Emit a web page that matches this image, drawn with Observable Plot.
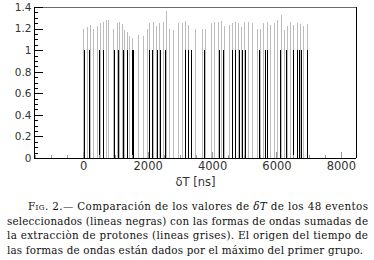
<!DOCTYPE html>
<html>
<head>
<meta charset="utf-8">
<script src="https://cdn.jsdelivr.net/npm/d3@7"></script>
<script src="https://cdn.jsdelivr.net/npm/@observablehq/plot@0.6"></script>
<style>
  html, body { margin: 0; padding: 0; background: #fff; }
  #chart { width: 374px; height: 190px; }
  #cap { font-family: "DejaVu Serif Condensed", "DejaVu Serif", serif; font-size: 11.5px; line-height: 14.6px; color: #111; margin-top: 9px; }
  #cap .l { white-space: nowrap; display: block; }
  #cap .l span.t { display: inline-block; }
</style>
</head>
<body>
<div id="chart"></div>
<div id="cap">
  <div class="l" style="padding-left:28px"><span class="t" data-w="340"><span style="font-variant:small-caps">Fig.</span> 2.— Comparación de los valores de <i>δT</i> de los 48 eventos</span></div>
  <div class="l" style="padding-left:7px"><span class="t" data-w="361">seleccionados (lineas negras) con las formas de ondas sumadas de</span></div>
  <div class="l" style="padding-left:7px"><span class="t" data-w="361">la extracciòn de protones (lineas grises). El origen del tiempo de</span></div>
  <div class="l" style="padding-left:7px"><span class="t" data-w="356">las formas de ondas están dados por el máximo del primer grupo.</span></div>
</div>
<script>
// Event times δT [ns] of the selected events (black lines, height 1)
const eventTimes = [10, 190, 480, 620, 945, 1090, 1225, 1350, 1525, 1550, 2050, 2135, 2280, 2385, 2550,
  3160, 3255, 3345, 3750, 4225, 4350, 4630, 4705, 4830, 4940, 5025, 5450, 5645, 5720,
  6125, 6300, 6525, 6650, 6690, 6715, 6755, 6945];
const eventHeight = 1;

// Summed proton-extraction waveform peaks (grey lines)
const waveTimes = [0, 104, 208, 311, 415, 519, 601, 705, 778, 933, 1037, 1119, 1192, 1275, 1347, 1430, 1503,
  1710, 1845, 1969, 2052, 2155, 2259, 2363, 2487, 2570, 2673, 2798, 2953, 3057, 3160, 3264, 3471, 3678, 3782,
  3968, 4072, 4176, 4279, 4383, 4538, 4611, 4714, 4818, 4901, 5004, 5129, 5232, 5388, 5491, 5595, 5699, 5802,
  5937, 6030, 6134, 6237, 6320, 6424, 6527, 6631, 6735, 6838, 6942];
const waveHeights = [1.20, 1.21, 1.23, 1.20, 1.22, 1.25, 1.26, 1.28, 1.28, 1.20, 1.25, 1.26, 1.24, 1.19, 1.17, 1.13, 1.11,
  1.14, 1.13, 1.20, 1.25, 1.26, 1.22, 1.25, 1.26, 1.36, 1.20, 1.19, 1.25, 1.25, 1.27, 1.23, 1.20, 1.20, 1.20,
  1.25, 1.26, 1.26, 1.27, 1.22, 1.23, 1.25, 1.26, 1.25, 1.21, 1.26, 1.26, 1.25, 1.20, 1.20, 1.25, 1.26, 1.23,
  1.25, 1.28, 1.33, 1.19, 1.22, 1.26, 1.23, 1.25, 1.24, 1.22, 1.24];

const xDomain = [-1530, 8470];
const yDomain = [0, 1.4];
const xMajorTicks = [0, 2000, 4000, 6000, 8000];
const xMinorTicks = [-1500, -1000, -500, 500, 1000, 1500, 2500, 3000, 3500, 4500, 5000, 5500, 6500, 7000, 7500, 8000];
const yMajorTicks = [0, 0.2, 0.4, 0.6, 0.8, 1, 1.2, 1.4];
const yMinorTicks = [0.05, 0.1, 0.15, 0.25, 0.3, 0.35, 0.45, 0.5, 0.55, 0.65, 0.7, 0.75, 0.85, 0.9, 0.95, 1.05, 1.1, 1.15, 1.25, 1.3, 1.35];
const xLabel = "δT [ns]";

const W = 374, H = 190, mL = 34, mR = 18, mT = 7, mB = 32;
const plotW = W - mL - mR, plotH = H - mT - mB;

const waves = waveTimes.map((t, i) => ({t, h: waveHeights[i]}));

const chart = Plot.plot({
  width: W, height: H,
  marginLeft: mL, marginRight: mR, marginTop: mT, marginBottom: mB,
  style: {fontFamily: "'DejaVu Sans', sans-serif", fontSize: "10.5px", color: "#333", background: "white", overflow: "visible"},
  x: {domain: xDomain},
  y: {domain: yDomain},
  marks: [
    Plot.ruleX(waves, {x: "t", y1: 0, y2: "h", stroke: "#bcbcbc", strokeWidth: 1, shapeRendering: "crispEdges"}),
    Plot.ruleX(eventTimes, {x: d => d, y1: 0, y2: eventHeight, stroke: "#000", strokeWidth: 1, shapeRendering: "crispEdges"}),
    Plot.ruleY([yDomain[1]], {stroke: "#6a6a6a", shapeRendering: "crispEdges"}),
    Plot.ruleY([yDomain[0]], {stroke: "#000", shapeRendering: "crispEdges"}),
    Plot.ruleX([xDomain[0]], {stroke: "#000", shapeRendering: "crispEdges"}),
    Plot.ruleX([xDomain[1]], {stroke: "#000", shapeRendering: "crispEdges"}),
    Plot.tickY(yMinorTicks, {y: d => d, insetRight: plotW - 4, stroke: "#000", shapeRendering: "crispEdges"}),
    Plot.tickY(yMajorTicks, {y: d => d, insetRight: plotW - 9, stroke: "#000", shapeRendering: "crispEdges"}),
    Plot.tickX(xMinorTicks, {x: d => d, insetTop: plotH - 3, stroke: "#999", shapeRendering: "crispEdges"}),
    Plot.tickX(xMajorTicks, {x: d => d, insetTop: plotH - 6, stroke: "#999", shapeRendering: "crispEdges"}),
    Plot.axisY({ticks: yMajorTicks, tickSize: 0, tickPadding: 3, tickFormat: d => String(+d.toFixed(1)), label: null}),
    Plot.axisX({ticks: xMajorTicks, tickSize: 0, tickPadding: 3, fontSize: 11.5, tickFormat: d => String(d), label: xLabel, labelArrow: false, labelAnchor: "center", labelOffset: 27})
  ]
});
document.getElementById("chart").append(chart);

// justify each caption line to its width
document.querySelectorAll("#cap span.t").forEach(s => {
  const target = +s.dataset.w;
  const nat = s.getBoundingClientRect().width;
  const n = s.textContent.length - 1;
  s.style.letterSpacing = ((target - nat) / n) + "px";
});
</script>
</body>
</html>
